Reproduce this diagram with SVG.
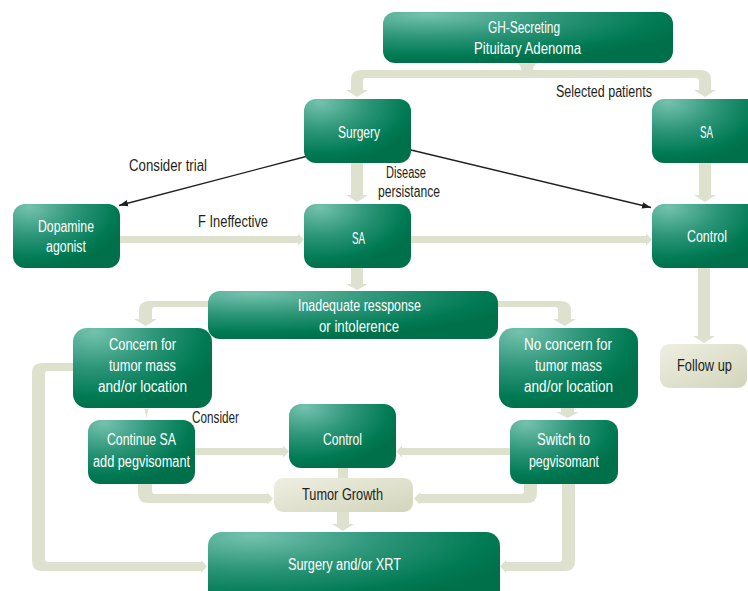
<svg xmlns="http://www.w3.org/2000/svg" width="748" height="591" viewBox="0 0 748 591">
<defs>
<radialGradient id="gn" cx="0.15" cy="0.05" r="0.95" fx="0.15" fy="0.05">
<stop offset="0" stop-color="#74c2ad"/>
<stop offset="0.45" stop-color="#2f977a"/>
<stop offset="0.85" stop-color="#007a53"/>
<stop offset="1" stop-color="#00704a"/>
</radialGradient>
<linearGradient id="gb" x1="0" y1="0" x2="1" y2="1">
<stop offset="0" stop-color="#eeefe2"/>
<stop offset="1" stop-color="#d2d5bb"/>
</linearGradient>
<marker id="ah" markerWidth="10" markerHeight="8" refX="9" refY="4" orient="auto" markerUnits="userSpaceOnUse">
<path d="M0,0.8 L9,4 L0,7.2 Z" fill="#231f20"/>
</marker>
<style>
.n{fill:url(#gn)}
.b{fill:url(#gb)}
.c{fill:#dfe1cf}
.t{font-family:"Liberation Sans",Arial,sans-serif;font-size:16px;fill:#ffffff}
.d{font-family:"Liberation Sans",Arial,sans-serif;font-size:16px;fill:#231f20}
.l{stroke:#231f20;stroke-width:1.3;fill:none;marker-end:url(#ah)}
</style>
</defs>
<rect width="748" height="591" fill="#ffffff"/>
<g id="connectors">
<path class="c" d="M512,62 L544,62 Q533,62 533,70 L521,70 Q521,62 512,62 Z"/>
<path class="c" d="M351,90 L351,80 Q351,70 361,70 L701,70 Q711,70 711,80 L711,90 L699,90 L699,81 Q699,78 696,78 L366,78 Q363,78 363,81 L363,90 Z"/>
<polygon class="c" points="346,90 368,90 357,97"/>
<polygon class="c" points="694,90 716,90 705,97"/>
<rect class="c" x="351" y="163" width="12" height="32"/>
<polygon class="c" points="346,195 368,195 357,202"/>
<rect class="c" x="699" y="163" width="12" height="32"/>
<polygon class="c" points="694,195 716,195 705,202"/>
<rect class="c" x="120" y="236" width="178" height="7"/>
<polygon class="c" points="298,233.5 298,245.5 304,239.5"/>
<rect class="c" x="411" y="236" width="235" height="7"/>
<polygon class="c" points="646,233.5 646,245.5 652,239.5"/>
<rect class="c" x="698" y="268" width="12" height="68"/>
<polygon class="c" points="693,336 715,336 704,343"/>
<rect class="c" x="351" y="268" width="12" height="16"/>
<polygon class="c" points="346,284 368,284 357,290"/>
<path class="c" d="M210,301 L149,301 Q139,301 139,311 L139,319 L152,319 L152,310 Q152,307 155,307 L210,307 Z"/>
<polygon class="c" points="134,319 157,319 145.5,326"/>
<path class="c" d="M496,301 L561,301 Q571,301 571,311 L571,319 L558,319 L558,310 Q558,307 555,307 L496,307 Z"/>
<polygon class="c" points="553,319 576,319 564.5,326"/>
<rect class="c" x="561" y="406" width="13" height="6"/>
<polygon class="c" points="556,412 579,412 567.5,418"/>
<polygon class="c" points="144.5,409 148.5,409 146.5,418"/>
<rect class="c" x="195" y="448" width="88" height="7"/>
<polygon class="c" points="283,445.5 283,457.5 289,451.5"/>
<rect class="c" x="402" y="448" width="108" height="7"/>
<polygon class="c" points="402,445.5 402,457.5 396,451.5"/>
<rect class="c" x="338" y="466" width="10" height="14"/>
<path class="c" d="M138,482 L152,482 L152,491 Q152,494 155,494 L267,494 L267,503 L148,503 Q138,503 138,493 Z"/>
<polygon class="c" points="267,492.5 267,504.5 273,498.5"/>
<path class="c" d="M537,482 L524,482 L524,491 Q524,494 521,494 L420,494 L420,503 L527,503 Q537,503 537,493 Z"/>
<polygon class="c" points="420,492.5 420,504.5 414,498.5"/>
<rect class="c" x="337" y="510" width="12" height="14"/>
<polygon class="c" points="332,524 354,524 343,531"/>
<path class="c" d="M75,363 L42,363 Q32,363 32,373 L32,561 Q32,571 42,571 L201,571 L201,562 L48,562 Q45,562 45,559 L45,374 Q45,371 48,371 L75,371 Z"/>
<polygon class="c" points="201,560 201,573 207,566.5"/>
<path class="c" d="M575,482 L575,561 Q575,571 565,571 L506,571 L506,562 L559,562 Q562,562 562,559 L562,482 Z"/>
<polygon class="c" points="506,560 506,573 500,566.5"/>
<line class="l" x1="306" y1="156.5" x2="119" y2="205.5"/>
<line class="l" x1="411" y1="150" x2="651" y2="207.5"/>
</g>
<g id="labels">
<text class="d" x="556" y="97" textLength="96" lengthAdjust="spacingAndGlyphs">Selected patients</text>
<text class="d" x="386" y="178" textLength="40" lengthAdjust="spacingAndGlyphs">Disease</text>
<text class="d" x="378" y="197" textLength="62" lengthAdjust="spacingAndGlyphs">persistance</text>
<text class="d" x="129" y="171" textLength="78" lengthAdjust="spacingAndGlyphs">Consider trial</text>
<text class="d" x="198" y="227" textLength="70" lengthAdjust="spacingAndGlyphs">F Ineffective</text>
<text class="d" x="192" y="423" textLength="47" lengthAdjust="spacingAndGlyphs">Consider</text>
</g>
<g id="gh">
<rect class="n" x="383" y="12" width="290" height="51" rx="12"/>
<text class="t" x="488" y="33" textLength="72" lengthAdjust="spacingAndGlyphs">GH-Secreting</text>
<text class="t" x="474" y="54" textLength="107" lengthAdjust="spacingAndGlyphs">Pituitary Adenoma</text>
</g>
<g id="surgery">
<rect class="n" x="304" y="99" width="107" height="64" rx="12"/>
<text class="t" x="338" y="138" textLength="42" lengthAdjust="spacingAndGlyphs">Surgery</text>
</g>
<g id="sa-top">
<rect class="n" x="652" y="99" width="110" height="64" rx="12"/>
<text class="t" x="700" y="138" textLength="13" lengthAdjust="spacingAndGlyphs">SA</text>
</g>
<g id="dopamine">
<rect class="n" x="13" y="204" width="107" height="64" rx="12"/>
<text class="t" x="38" y="232" textLength="56" lengthAdjust="spacingAndGlyphs">Dopamine</text>
<text class="t" x="46" y="252" textLength="40" lengthAdjust="spacingAndGlyphs">agonist</text>
</g>
<g id="sa-mid">
<rect class="n" x="304" y="204" width="107" height="64" rx="12"/>
<text class="t" x="352" y="244" textLength="13" lengthAdjust="spacingAndGlyphs">SA</text>
</g>
<g id="control-right">
<rect class="n" x="652" y="204" width="110" height="64" rx="12"/>
<text class="t" x="687" y="242" textLength="40" lengthAdjust="spacingAndGlyphs">Control</text>
</g>
<g id="follow-up">
<rect class="b" x="660" y="344" width="87" height="44" rx="9"/>
<text class="d" x="677" y="371" textLength="55" lengthAdjust="spacingAndGlyphs">Follow up</text>
</g>
<g id="inadequate">
<rect class="n" x="208" y="291" width="290" height="48" rx="12"/>
<text class="t" x="298" y="311" textLength="123" lengthAdjust="spacingAndGlyphs">Inadequate ressponse</text>
<text class="t" x="319" y="332" textLength="80" lengthAdjust="spacingAndGlyphs">or intolerence</text>
</g>
<g id="concern">
<rect class="n" x="73" y="328" width="139" height="80" rx="14"/>
<text class="t" x="109" y="350" textLength="67" lengthAdjust="spacingAndGlyphs">Concern for</text>
<text class="t" x="109" y="371" textLength="67" lengthAdjust="spacingAndGlyphs">tumor mass</text>
<text class="t" x="98" y="392" textLength="89" lengthAdjust="spacingAndGlyphs">and/or location</text>
</g>
<g id="no-concern">
<rect class="n" x="499" y="328" width="139" height="80" rx="14"/>
<text class="t" x="524" y="350" textLength="88" lengthAdjust="spacingAndGlyphs">No concern for</text>
<text class="t" x="535" y="371" textLength="67" lengthAdjust="spacingAndGlyphs">tumor mass</text>
<text class="t" x="524" y="392" textLength="89" lengthAdjust="spacingAndGlyphs">and/or location</text>
</g>
<g id="continue-sa">
<rect class="n" x="88" y="420" width="107" height="64" rx="12"/>
<text class="t" x="107" y="445" textLength="69" lengthAdjust="spacingAndGlyphs">Continue SA</text>
<text class="t" x="93" y="467" textLength="97" lengthAdjust="spacingAndGlyphs">add pegvisomant</text>
</g>
<g id="control-mid">
<rect class="n" x="289" y="404" width="107" height="64" rx="12"/>
<text class="t" x="323" y="445" textLength="39" lengthAdjust="spacingAndGlyphs">Control</text>
</g>
<g id="switch">
<rect class="n" x="510" y="420" width="108" height="64" rx="12"/>
<text class="t" x="537" y="445" textLength="53" lengthAdjust="spacingAndGlyphs">Switch to</text>
<text class="t" x="529" y="467" textLength="70" lengthAdjust="spacingAndGlyphs">pegvisomant</text>
</g>
<g id="tumor-growth">
<rect class="b" x="274" y="478" width="139" height="34" rx="9"/>
<text class="d" x="302" y="500" textLength="81" lengthAdjust="spacingAndGlyphs">Tumor Growth</text>
</g>
<g id="surgery-xrt">
<rect class="n" x="208" y="532" width="292" height="75" rx="14"/>
<text class="t" x="288" y="570" textLength="113" lengthAdjust="spacingAndGlyphs">Surgery and/or XRT</text>
</g>
</svg>
